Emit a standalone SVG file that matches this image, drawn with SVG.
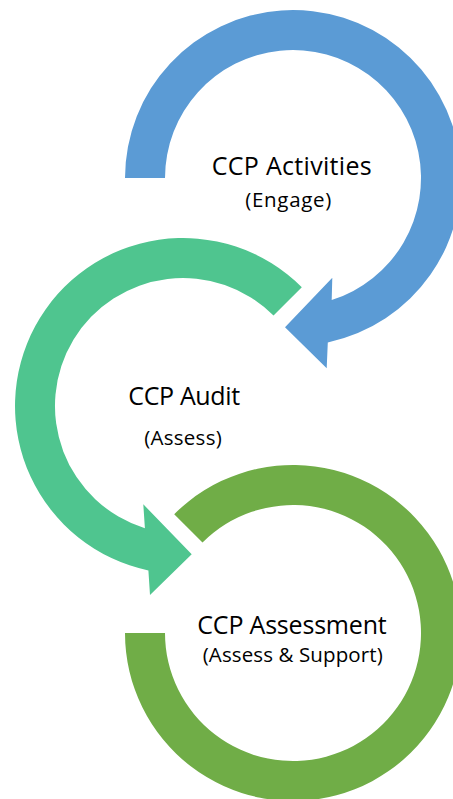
<svg xmlns="http://www.w3.org/2000/svg" width="453" height="799" viewBox="0 0 453 799">
  <style>
    .title { font-family: "Open Sans", "Liberation Sans", sans-serif; font-size: 25px; fill: #000; text-anchor: middle; }
    .sub { font-family: "Open Sans", "Liberation Sans", sans-serif; font-size: 20.5px; fill: #000; text-anchor: middle; }
    .blue { fill: #5B9BD5; }
    .teal { fill: #4FC58F; }
    .olive { fill: #70AD47; }
  </style>
  <rect width="453" height="799" fill="#FFFFFF"/>
  <g id="node-activities">
    <path class="blue" d="M125,178 A168,168 0 1,1 327.8,342.4 L326.7,368.3 L285,327.3 L332.3,277.7 L331.7,300 A128,128 0 1,0 165,178 Z"/>
    <text class="title" x="291.7" y="175" textLength="160">CCP Activities</text>
    <text class="sub" x="288.3" y="206.7" textLength="86">(Engage)</text>
  </g>
  <g id="node-audit">
    <path class="teal" d="M301.8,287.2 A168,168 0 1,0 148.4,570.4 L150,595 L191.7,554.3 L143.3,504.3 L144.9,528.2 A128,128 0 1,1 273.5,315.5 Z"/>
    <text class="title" x="184.2" y="405" textLength="111.7">CCP Audit</text>
    <text class="sub" x="183" y="445" textLength="77.4">(Assess)</text>
  </g>
  <g id="node-assessment">
    <path class="olive" d="M125,633 A168,168 0 1,0 174.2,514.2 L202.5,542.5 A128,128 0 1,1 165,633 Z"/>
    <text class="title" x="292" y="634.3" textLength="189.4">CCP Assessment</text>
    <text class="sub" x="292.7" y="661.5" textLength="180">(Assess &amp; Support)</text>
  </g>
  <g id="connectors"/>
</svg>
